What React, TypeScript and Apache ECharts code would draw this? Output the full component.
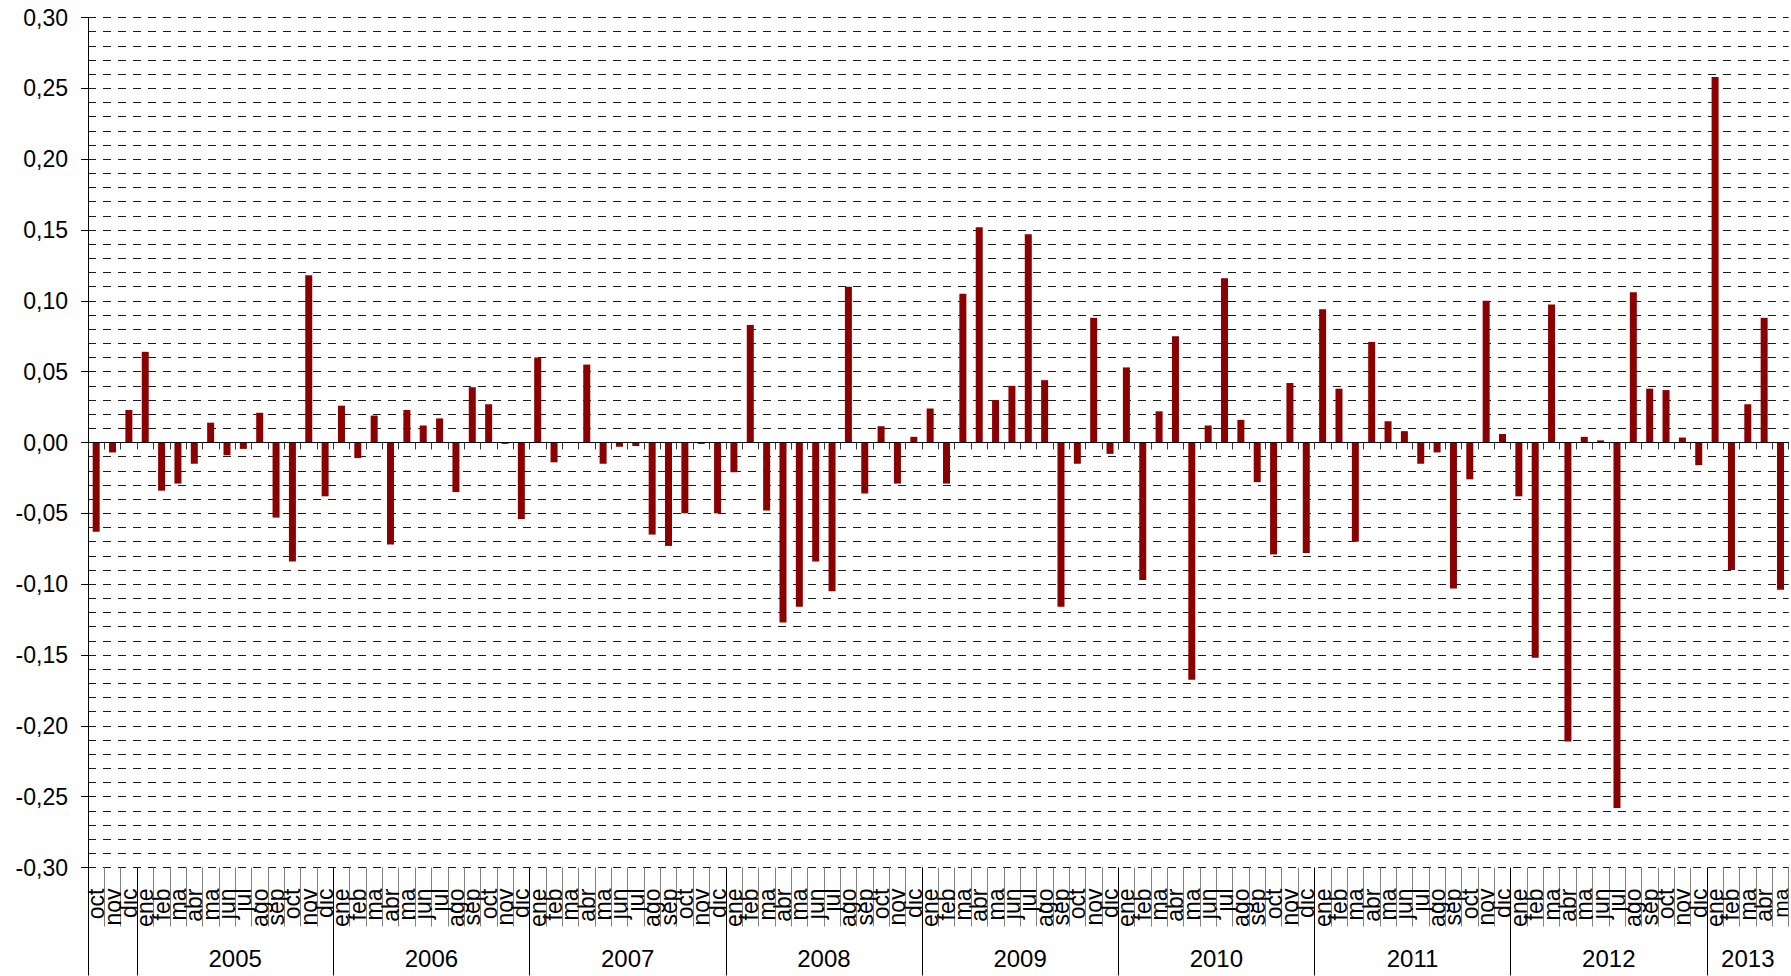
import React, { useEffect, useRef } from 'react';
import * as echarts from 'echarts';

// Month category labels (oct 2004 .. may 2013)
const monthLabels: string[] = [
  'oct', 'nov', 'dic',
  'ene', 'feb', 'ma', 'abr', 'ma', 'jun', 'jul', 'ago', 'sep', 'oct', 'nov', 'dic',
  'ene', 'feb', 'ma', 'abr', 'ma', 'jun', 'jul', 'ago', 'sep', 'oct', 'nov', 'dic',
  'ene', 'feb', 'ma', 'abr', 'ma', 'jun', 'jul', 'ago', 'sep', 'oct', 'nov', 'dic',
  'ene', 'feb', 'ma', 'abr', 'ma', 'jun', 'jul', 'ago', 'sep', 'oct', 'nov', 'dic',
  'ene', 'feb', 'ma', 'abr', 'ma', 'jun', 'jul', 'ago', 'sep', 'oct', 'nov', 'dic',
  'ene', 'feb', 'ma', 'abr', 'ma', 'jun', 'jul', 'ago', 'sep', 'oct', 'nov', 'dic',
  'ene', 'feb', 'ma', 'abr', 'ma', 'jun', 'jul', 'ago', 'sep', 'oct', 'nov', 'dic',
  'ene', 'feb', 'ma', 'abr', 'ma', 'jun', 'jul', 'ago', 'sep', 'oct', 'nov', 'dic',
  'ene', 'feb', 'ma', 'abr', 'ma',
];

// Year group labels (the first three months belong to 2004, unlabeled)
const yearLabels: string[] = ['2005', '2006', '2007', '2008', '2009', '2010', '2011', '2012', '2013'];

// Monthly values
const values2004: number[] = [-0.063, -0.007, 0.023];
const values2005: number[] = [0.064, -0.034, -0.029, -0.015, 0.014, -0.009, -0.0045, 0.021, -0.053, -0.084, 0.118, -0.038];
const values2006: number[] = [0.026, -0.011, 0.019, -0.072, 0.023, 0.012, 0.017, -0.035, 0.039, 0.027, -0.001, -0.054];
const values2007: number[] = [0.060, -0.014, 0.0, 0.055, -0.015, -0.003, -0.0025, -0.065, -0.073, -0.050, -0.001, -0.050];
const values2008: number[] = [-0.021, 0.083, -0.048, -0.127, -0.116, -0.084, -0.105, 0.110, -0.036, 0.0115, -0.029, 0.004];
const values2009: number[] = [0.024, -0.029, 0.105, 0.152, 0.030, 0.040, 0.147, 0.044, -0.116, -0.015, 0.088, -0.008];
const values2010: number[] = [0.053, -0.097, 0.022, 0.075, -0.1675, 0.012, 0.116, 0.016, -0.028, -0.079, 0.042, -0.078];
const values2011: number[] = [0.094, 0.038, -0.070, 0.071, 0.015, 0.008, -0.015, -0.007, -0.103, -0.026, 0.100, 0.006];
const values2012: number[] = [-0.038, -0.152, 0.0975, -0.211, 0.004, 0.0015, -0.258, 0.106, 0.038, 0.037, 0.0035, -0.016];
const values2013: number[] = [0.258, -0.090, 0.027, 0.088, -0.104];

const yMin = -0.3;
const yMax = 0.3;
const yInterval = 0.05;

const FONT = '"Liberation Sans", Arial, Helvetica, sans-serif';

export default function App() {
  const ref = useRef<HTMLDivElement>(null);

  useEffect(() => {
    if (!ref.current) return;
    const chart = echarts.init(ref.current, null, { renderer: 'svg' });

    const values = [
      ...values2004, ...values2005, ...values2006, ...values2007, ...values2008,
      ...values2009, ...values2010, ...values2011, ...values2012, ...values2013,
    ];
    const n = monthLabels.length;
    const starts: number[] = [];
    monthLabels.forEach((m, i) => { if (m === 'ene') starts.push(i); });
    const boundaries = [0, ...starts];
    const centers = starts.map((s, k) => (s + (k + 1 < starts.length ? starts[k + 1] : n)) / 2);

    // the last month label sits at the right edge: keep it inside the page
    const monthData = monthLabels.map((m, i) =>
      i === n - 1 ? { value: m, textStyle: { fontSize: 21, padding: [0, 0, 12, 0] } } : m
    );

    const fmtY = (v: number) => {
      if (Math.abs(v) < 1e-9) return '0,00';
      return v.toFixed(2).replace('.', ',');
    };

    const dashed = { color: '#1a1a1a', width: 1, type: [8, 7] as any };

    chart.setOption({
      animation: false,
      grid: { left: 88, top: 17.5, width: 1702, height: 850, containLabel: false },
      xAxis: [
        {
          type: 'category',
          data: monthLabels,
          gridIndex: 0,
          position: 'bottom',
          axisLine: { show: true, onZero: true, onZeroAxisIndex: 0, lineStyle: { color: '#000', width: 1 } },
          axisTick: { show: true, length: 7, inside: false, alignWithLabel: false, interval: 0, lineStyle: { color: '#333' } },
          axisLabel: { show: false },
          splitLine: { show: false },
          z: 5,
        },
        {
          type: 'category',
          data: monthData,
          gridIndex: 0,
          position: 'bottom',
          axisLine: { show: false, onZero: false },
          axisTick: { show: true, length: 59, interval: 0, alignWithLabel: false, lineStyle: { color: '#808080' } },
          axisLabel: {
            show: true, interval: 0, rotate: 90, margin: 21,
            fontSize: 23, color: '#000', fontFamily: FONT,
          },
          splitLine: { show: false },
        },
        {
          type: 'value',
          min: 0,
          max: n,
          gridIndex: 0,
          position: 'bottom',
          axisLine: { show: false, onZero: false },
          axisTick: { show: true, length: 108, customValues: boundaries, lineStyle: { color: '#000' } },
          axisLabel: {
            show: true,
            customValues: centers,
            margin: 79,
            fontSize: 24,
            color: '#000',
            fontFamily: FONT,
            formatter: (v: number) => {
              const k = centers.findIndex((c) => Math.abs(c - v) < 1e-6);
              return k >= 0 ? yearLabels[k] : '';
            },
          },
          splitLine: { show: false },
        },
      ],
      yAxis: [
        {
          type: 'value',
          min: yMin,
          max: yMax,
          interval: yInterval,
          axisLine: { show: true, onZero: false, lineStyle: { color: '#000', width: 1 } },
          axisTick: { show: true, length: 7, inside: false, lineStyle: { color: '#000' } },
          axisLabel: { show: true, margin: 20, fontSize: 23, color: '#000', fontFamily: FONT, formatter: fmtY },
          splitLine: { show: true, lineStyle: dashed },
          minorTick: { show: false, splitNumber: 5 },
          minorSplitLine: { show: true, lineStyle: dashed },
        },
      ],
      series: [
        {
          type: 'bar',
          xAxisIndex: 0,
          yAxisIndex: 0,
          data: values,
          barWidth: 7,
          itemStyle: { color: '#8B0000' },
          z: 3,
        },
      ],
    });

    return () => chart.dispose();
  }, []);

  return (
    <div
      ref={ref}
      style={{ position: 'fixed', left: 0, top: 0, width: 1791, height: 976, background: '#fff' }}
    />
  );
}
